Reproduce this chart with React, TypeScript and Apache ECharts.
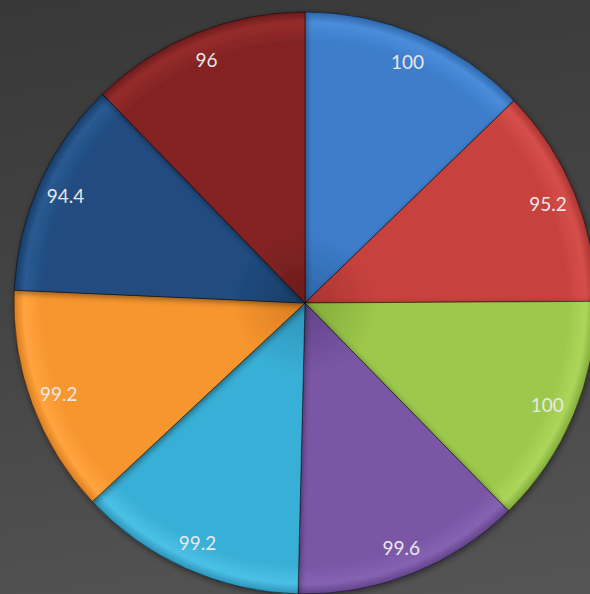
import React, { useEffect, useRef } from "react";
import * as echarts from "echarts";

const values = [100, 95.2, 100, 99.6, 99.2, 99.2, 94.4, 96];
const labels = ["100", "95.2", "100", "99.6", "99.2", "99.2", "94.4", "96"];
const baseColors = ["#3d7dca", "#c8423e", "#9cc84b", "#7a56a5", "#39afd6", "#f7952f", "#204c7f", "#842424"];
const rimColors = ["#4a8ddb", "#d64f4b", "#acd65a", "#8563b2", "#4cc0e6", "#ffa43f", "#2a5a92", "#962c2c"];
const darkColors = ["#2f66a8", "#a83431", "#82aa3a", "#63438a", "#2d93b8", "#d97d20", "#173c66", "#6a1b1b"];

const CX = 305;
const CY = 303;
const R = 291;

export default function App() {
  const ref = useRef<HTMLDivElement>(null);
  useEffect(() => {
    if (!ref.current) return;
    const chart = echarts.init(ref.current, null, { renderer: "svg" });
    const fillData = values.map((v, i) => ({
      value: v,
      name: labels[i] + "_" + i,
      itemStyle: {
        color: {
          type: "radial",
          x: CX,
          y: CY,
          r: R,
          global: true,
          colorStops: [
            { offset: 0, color: darkColors[i] },
            { offset: 0.25, color: baseColors[i] },
            { offset: 0.9, color: baseColors[i] },
            { offset: 0.965, color: rimColors[i] },
            { offset: 1, color: darkColors[i] },
          ],
        },
      },
    }));
    const labelData = values.map((v, i) => ({ value: v, name: labels[i] + "_" + i, label: { formatter: labels[i] } }));
    chart.setOption({
      animation: false,
      backgroundColor: "transparent",
      series: [
        {
          type: "pie",
          center: [CX, CY],
          radius: [0, R],
          startAngle: 90,
          clockwise: true,
          silent: true,
          label: { show: false },
          labelLine: { show: false },
          itemStyle: {
            borderColor: "rgba(0,0,0,0.45)",
            borderWidth: 1,
            shadowBlur: 6,
            shadowColor: "rgba(0,0,0,0.45)",
            shadowOffsetX: 1,
            shadowOffsetY: 2,
          },
          data: fillData,
        },
        {
          type: "pie",
          center: [CX, CY],
          radius: [228, R],
          startAngle: 90,
          clockwise: true,
          silent: true,
          itemStyle: { color: "rgba(0,0,0,0)" },
          label: {
            show: true,
            position: "inside",
            color: "#e8e8e8",
            fontSize: 19,
            fontFamily: "Lato, 'Open Sans', sans-serif",
          },
          labelLine: { show: false },
          data: labelData,
        },
      ],
    });
    return () => chart.dispose();
  }, []);
  return (
    <div
      style={{
        position: "fixed",
        left: 0,
        top: 0,
        width: 590,
        height: 594,
        background: "linear-gradient(170deg, #383838 0%, #444444 45%, #555555 100%)",
      }}
    >
      <div ref={ref} style={{ width: 590, height: 594 }} />
    </div>
  );
}
